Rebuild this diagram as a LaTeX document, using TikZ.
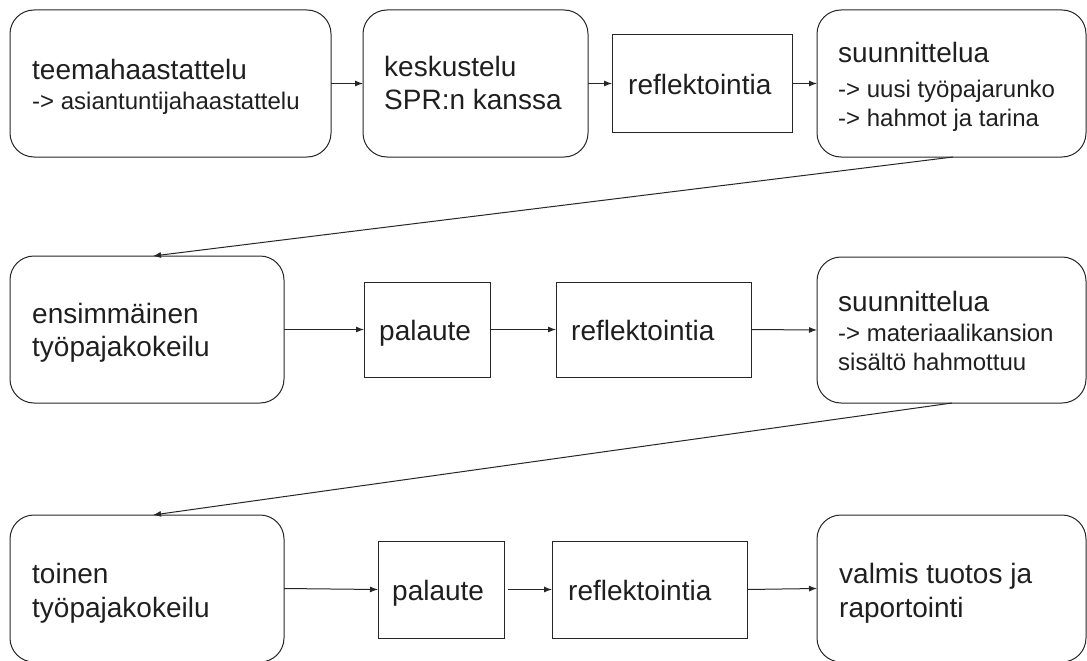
\documentclass[tikz,border=0pt]{standalone}
\usepackage{fontspec}
\setmainfont{Liberation Sans}
\usetikzlibrary{arrows.meta}
\begin{document}
\begin{tikzpicture}[x=1pt,y=-1pt,
  box/.style={draw=black!85,line width=1pt,inner sep=0pt,outer sep=0pt},
  rbox/.style={box,rounded corners=24pt},
  big/.style={anchor=base west,inner sep=0pt,text=black!88,font=\fontsize{28}{34}\selectfont},
  small/.style={anchor=base west,inner sep=0pt,text=black!88,font=\fontsize{24}{29}\selectfont},
  conn/.style={draw=black!85,line width=1pt,-{Latex[length=8pt,width=6pt]}}
]
\useasboundingbox (0,0) rectangle (1087,661);
% boxes: center, width, height
\node[rbox,minimum width=321pt,minimum height=147pt] (A) at (170.5,83.5) {};
\node[rbox,minimum width=225pt,minimum height=147pt] (B) at (475.5,83.5) {};
\node[box,minimum width=180pt,minimum height=97pt] (C) at (702,83.5) {};
\node[rbox,minimum width=269pt,minimum height=147pt] (D) at (951.5,83.5) {};
\node[rbox,minimum width=274pt,minimum height=147pt] (E) at (147,329.5) {};
\node[box,minimum width=126pt,minimum height=95pt] (F) at (427,329.5) {};
\node[box,minimum width=195pt,minimum height=95pt] (G) at (653.5,329.5) {};
\node[rbox,minimum width=269pt,minimum height=146pt] (H) at (951.5,330) {};
\node[rbox,minimum width=274pt,minimum height=147pt] (I) at (147,588.5) {};
\node[box,minimum width=126pt,minimum height=97pt] (J) at (441,589.5) {};
\node[box,minimum width=195pt,minimum height=97pt] (K) at (649.5,589.5) {};
\node[rbox,minimum width=269pt,minimum height=147pt] (L) at (951.5,588.5) {};
% texts
\node[big] (a1) at (32,80) {teemahaastattelu};
\node[small] (a2) at (32,109) {-> asiantuntijahaastattelu};
\node[big] (b1) at (384,77) {keskustelu};
\node[big] (b2) at (384,110) {SPR:n kanssa};
\node[big] (c1) at (628,94) {reflektointia};
\node[big] (d1) at (838,63) {suunnittelua};
\node[small] (d2) at (838,97) {-> uusi työpajarunko};
\node[small] (d3) at (838,126) {-> hahmot ja tarina};
\node[big] (e1) at (32,323) {ensimmäinen};
\node[big] (e2) at (32,356) {työpajakokeilu};
\node[big] (f1) at (379,340) {palaute};
\node[big] (g1) at (571,340) {reflektointia};
\node[big] (h1) at (838,311) {suunnittelua};
\node[small] (h2) at (838,341) {-> materiaalikansion};
\node[small] (h3) at (838,370) {sisältö hahmottuu};
\node[big] (i1) at (32,583) {toinen};
\node[big] (i2) at (32,617) {työpajakokeilu};
\node[big] (j1) at (392,600) {palaute};
\node[big] (k1) at (568,600) {reflektointia};
\node[big] (l1) at (839,583) {valmis tuotos ja};
\node[big] (l2) at (839,617) {raportointi};
% connectors
\draw[conn] (A.east) -- (B.west);
\draw[conn] (B.east) -- (C.west);
\draw[conn] (C.east) -- (D.west);
\draw[conn] ([xshift=1.5pt]D.south) -- ([xshift=6pt]E.north);
\draw[conn] (E.east) -- (F.west);
\draw[conn] (F.east) -- (G.west);
\draw[conn] (G.east) -- (H.west);
\draw[conn] ([xshift=0.5pt]H.south) -- ([xshift=6pt]I.north);
\draw[conn] (I.east) -- (J.west);
\draw[conn,shorten <=4pt] (J.east) -- (K.west);
\draw[conn] (K.east) -- (L.west);
\end{tikzpicture}
\end{document}
